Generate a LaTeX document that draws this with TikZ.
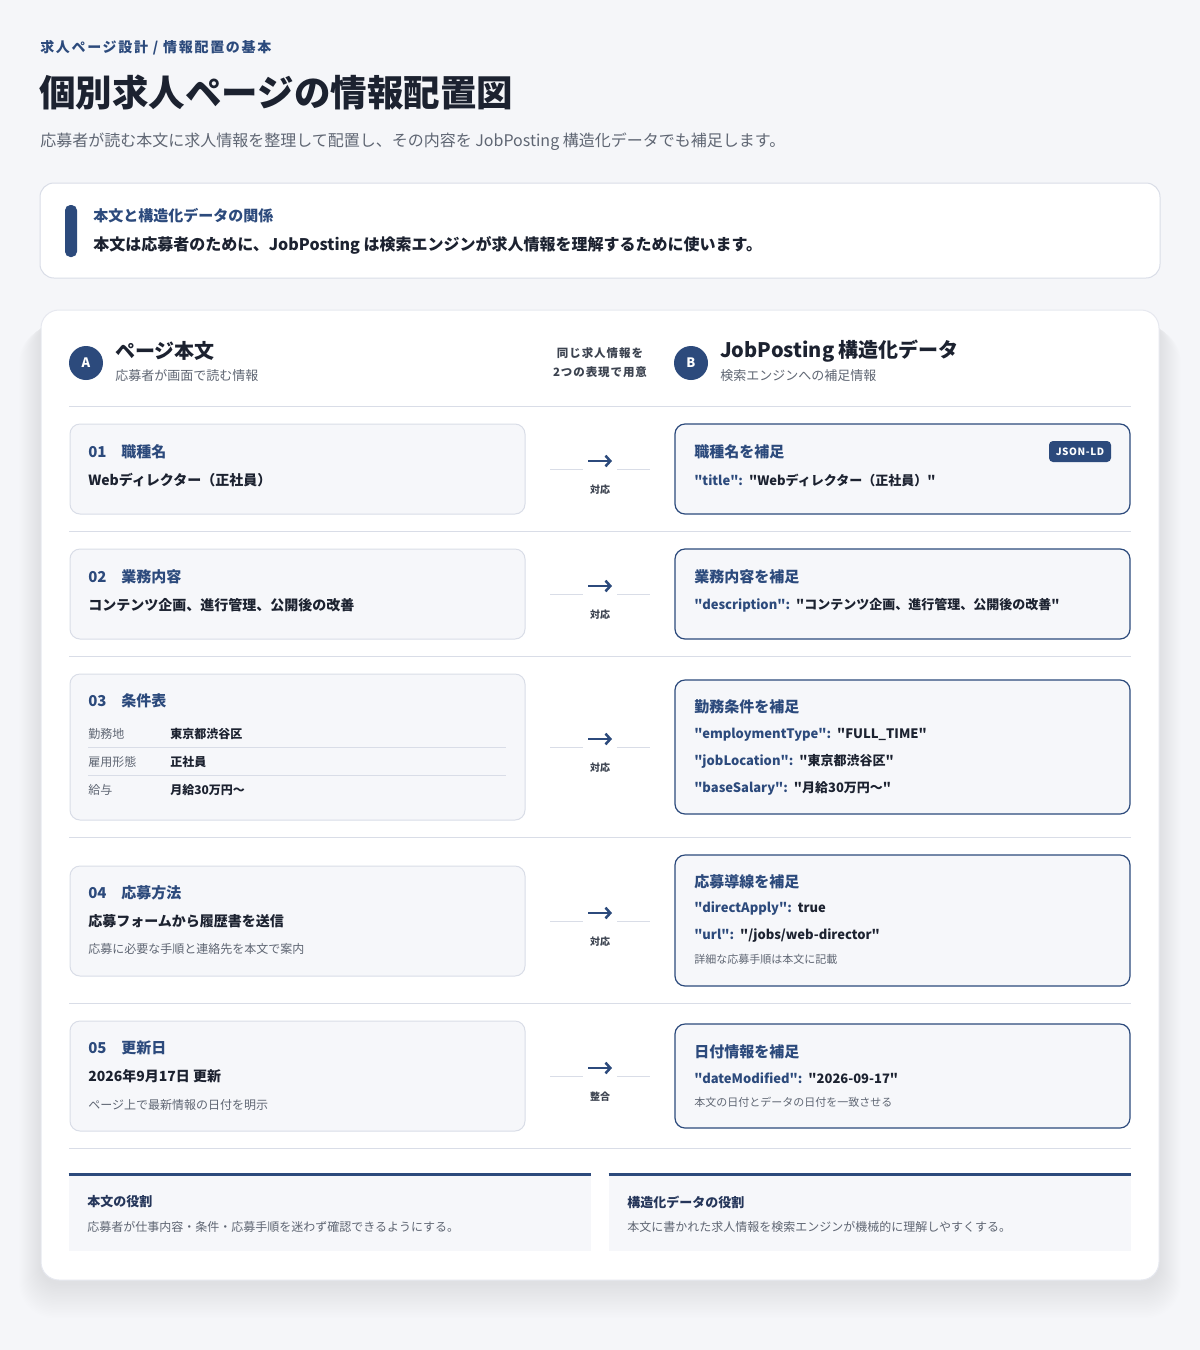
\documentclass[tikz,border=0pt]{standalone}
\usepackage{fontspec}
\setmainfont{Noto Sans CJK JP}
\newfontfamily\jsonfont{Noto Sans CJK JP}
\usetikzlibrary{arrows.meta}
\definecolor{bg}{HTML}{F5F6F9}
\definecolor{bordc}{HTML}{D9DDE7}
\definecolor{cardbord}{HTML}{E6E8EF}
\definecolor{navy}{HTML}{2C4A7C}
\definecolor{ink}{HTML}{1C2230}
\definecolor{mute}{HTML}{5F6673}
\definecolor{panel}{HTML}{F6F7FA}
\definecolor{roleink}{HTML}{25365A}
\definecolor{midink}{HTML}{3C4350}
\definecolor{shad}{HTML}{5A6384}
\newcommand\fs[1]{\pgfmathsetmacro\fsv{#1*0.75}\fontsize{\fsv pt}{\fsv pt}\selectfont}
\newcommand\panel[6]{\node[#2, inner sep=0pt, minimum width={(#5-#3)*0.75pt}, minimum height={(#6-#4)*0.75pt}] (#1) at ({(#3+#5)/2},{(#4+#6)/2}) {};}
\newcommand\jkey[1]{{\color{navy}#1}}
\tikzset{
  txt/.style={inner sep=0pt, anchor=west},
  lpanel/.style={draw=bordc, fill=panel, line width=0.75pt, rounded corners=7.5pt},
  rpanel/.style={draw=navy, fill=panel, line width=0.9pt, rounded corners=7.5pt},
  rowhead/.style={txt, text=navy, font=\fs{15}\bfseries},
  rowval/.style={txt, text=ink, font=\fs{14}\bfseries},
  jline/.style={txt, text=ink, font=\jsonfont\fs{13}\bfseries},
  lnote/.style={txt, text=mute, font=\fs{12}},
  rnote/.style={txt, text=mute, font=\fs{11}},
  tlabel/.style={txt, text=mute, font=\fs{12}},
  tval/.style={txt, text=ink, font=\fs{12}\bfseries},
  sepline/.style={draw=bordc, line width=0.75pt},
  linkline/.style={draw=bordc, line width=0.75pt},
  linkarrow/.style={draw=navy, line width=1.9pt, -{Straight Barb[length=3.6pt,width=8pt]}},
  linklabel/.style={inner sep=0pt, text=midink, font=\fs{10}\bfseries},
  badge/.style={circle, fill=navy, text=white, inner sep=0pt, minimum size=25.5pt, font=\fs{13}\bfseries},
}
\newcommand\rowlink[3]{%
  \coordinate (#1-l1) at (550,#2); \coordinate (#1-l2) at (583,#2);
  \coordinate (#1-r1) at (617,#2); \coordinate (#1-r2) at (650,#2);
  \draw[linkline] (#1-l1) -- (#1-l2);
  \draw[linkline] (#1-r1) -- (#1-r2);
  \coordinate (#1-a1) at (588,#2-8); \coordinate (#1-a2) at (612,#2-8);
  \draw[linkarrow] (#1-a1) -- (#1-a2);
  \node[linklabel] (#1-lab) at (600,#2+21) {#3};}
\begin{document}
\begin{tikzpicture}[x=0.75pt,y=-0.75pt]
\useasboundingbox (0,0) rectangle (1200,1350);
\fill[bg] (0,0) rectangle (1200,1350);

% header texts
\node[txt, text=navy, font=\fs{14}\bfseries\addfontfeature{LetterSpace=12}] (crumb) at (40,48) {求人ページ設計 / 情報配置の基本};
\node[txt, text=ink, font=\fs{36.5}\bfseries] (title) at (39,92) {個別求人ページの情報配置図};
\node[txt, text=mute, font=\fs{16}] (subtitle) at (40,142) {応募者が読む本文に求人情報を整理して配置し、その内容を JobPosting 構造化データでも補足します。};

% note box
\panel{note}{draw=bordc, fill=white, line width=0.75pt, rounded corners=10.5pt}{40}{183}{1160}{278}
\panel{notebar}{fill=navy, rounded corners=4pt}{65}{205}{77}{257}
\node[txt, text=navy, font=\fs{15}\bfseries] (notehead) at (93,216) {本文と構造化データの関係};
\node[txt, text=ink, font=\fs{16}\bfseries] (notebody) at (93,245) {本文は応募者のために、JobPosting は検索エンジンが求人情報を理解するために使います。};

% main card shadow (soft, layered)
\foreach \i in {1,...,22}{
  \fill[shad, opacity=0.0045, rounded corners={13.5pt+\i*0.6pt}] ({41-\i*1.0},{318+\i*0.4}) rectangle ({1159+\i*1.0},{1283+\i*1.6});
}
\panel{card}{draw=cardbord, fill=white, line width=0.75pt, rounded corners=13.5pt}{41}{310}{1159}{1280}

% column headers
\node[badge] (ca) at (86,363) {A};
\node[txt, text=ink, font=\fs{20}\bfseries] (colA) at (115,351) {ページ本文};
\node[txt, text=mute, font=\fs{13}] (colAsub) at (115,376) {応募者が画面で読む情報};
\node[inner sep=0pt, text=midink, font=\fs{11.5}\bfseries\addfontfeature{LetterSpace=8}] (mid1) at (600,353) {同じ求人情報を};
\node[inner sep=0pt, text=midink, font=\fs{11.5}\bfseries\addfontfeature{LetterSpace=8}] (mid2) at (600,372) {2つの表現で用意};
\node[badge] (cb) at (691,363) {B};
\node[txt, text=ink, font=\fs{20}\bfseries] (colB) at (720,351) {JobPosting 構造化データ};
\node[txt, text=mute, font=\fs{13}] (colBsub) at (720,376) {検索エンジンへの補足情報};

% separators
\foreach \yy in {406,531,656,837,1003,1148}{
  \draw[sepline] (69,\yy) -- (1131,\yy);
}

% ---- row 1
\panel{L1}{lpanel}{70}{424}{525}{514}
\panel{R1}{rpanel}{675}{424}{1130}{514}
\node[rowhead] (L1n) at (88,452) {01};
\node[rowhead] (L1t) at (121,452) {職種名};
\node[rowval] (L1v) at (88,480) {Webディレクター（正社員）};
\node[rowhead] (R1h) at (694,452) {職種名を補足};
\node[fill=navy, text=white, rounded corners=3pt, inner sep=0pt, minimum width=46.5pt, minimum height=15.75pt, font=\fs{10}\bfseries\addfontfeature{LetterSpace=6}] (json) at (1080,451.5) {JSON-LD};
\node[jline] (R1j) at (694,480) {\jkey{"title":}\hspace{4.5pt}"Webディレクター（正社員）"};
\rowlink{k1}{469}{対応}

% ---- row 2
\panel{L2}{lpanel}{70}{549}{525}{639}
\panel{R2}{rpanel}{675}{549}{1130}{639}
\node[rowhead] (L2n) at (88,577) {02};
\node[rowhead] (L2t) at (121,577) {業務内容};
\node[rowval] (L2v) at (88,605) {コンテンツ企画、進行管理、公開後の改善};
\node[rowhead] (R2h) at (694,577) {業務内容を補足};
\node[jline] (R2j) at (694,605) {\jkey{"description":}\hspace{4.5pt}"コンテンツ企画、進行管理、公開後の改善"};
\rowlink{k2}{594}{対応}

% ---- row 3
\panel{L3}{lpanel}{70}{674}{525}{820}
\panel{R3}{rpanel}{675}{680}{1130}{814}
\node[rowhead] (L3n) at (88,701) {03};
\node[rowhead] (L3t) at (121,701) {条件表};
\node[tlabel] (L3a) at (88,734) {勤務地};
\node[tval] (L3av) at (170,734) {東京都渋谷区};
\draw[sepline] (88,747) -- (506,747);
\node[tlabel] (L3b) at (88,762) {雇用形態};
\node[tval] (L3bv) at (170,762) {正社員};
\draw[sepline] (88,775) -- (506,775);
\node[tlabel] (L3c) at (88,790) {給与};
\node[tval] (L3cv) at (170,790) {月給30万円〜};
\node[rowhead] (R3h) at (694,707) {勤務条件を補足};
\node[jline] (R3j1) at (694,735) {\jkey{"employmentType":}\hspace{4.5pt}"FULL\_TIME"};
\node[jline] (R3j2) at (694,761) {\jkey{"jobLocation":}\hspace{4.5pt}"東京都渋谷区"};
\node[jline] (R3j3) at (694,788) {\jkey{"baseSalary":}\hspace{4.5pt}"月給30万円〜"};
\rowlink{k3}{747}{対応}

% ---- row 4
\panel{L4}{lpanel}{70}{866}{525}{976}
\panel{R4}{rpanel}{675}{855}{1130}{986}
\node[rowhead] (L4n) at (88,893) {04};
\node[rowhead] (L4t) at (121,893) {応募方法};
\node[rowval] (L4v) at (88,921) {応募フォームから履歴書を送信};
\node[lnote] (L4x) at (88,949) {応募に必要な手順と連絡先を本文で案内};
\node[rowhead] (R4h) at (694,882) {応募導線を補足};
\node[jline] (R4j1) at (694,909) {\jkey{"directApply":}\hspace{4.5pt}true};
\node[jline] (R4j2) at (694,936) {\jkey{"url":}\hspace{4.5pt}"/jobs/web-director"};
\node[rnote] (R4x) at (694,959) {詳細な応募手順は本文に記載};
\rowlink{k4}{921}{対応}

% ---- row 5
\panel{L5}{lpanel}{70}{1021}{525}{1131}
\panel{R5}{rpanel}{675}{1024}{1130}{1128}
\node[rowhead] (L5n) at (88,1048) {05};
\node[rowhead] (L5t) at (121,1048) {更新日};
\node[rowval] (L5v) at (88,1076) {2026年9月17日 更新};
\node[lnote] (L5x) at (88,1105) {ページ上で最新情報の日付を明示};
\node[rowhead] (R5h) at (694,1052) {日付情報を補足};
\node[jline] (R5j) at (694,1078) {\jkey{"dateModified":}\hspace{4.5pt}"2026-09-17"};
\node[rnote] (R5x) at (694,1102) {本文の日付とデータの日付を一致させる};
\rowlink{k5}{1076}{整合}

% ---- footer roles
\panel{FA}{fill=panel}{69}{1173}{591}{1251}
\panel{FB}{fill=panel}{609}{1173}{1131}{1251}
\draw[navy, line width=2.25pt] ([yshift=-1.1pt]FA.north west) -- ([yshift=-1.1pt]FA.north east);
\draw[navy, line width=2.25pt] ([yshift=-1.1pt]FB.north west) -- ([yshift=-1.1pt]FB.north east);
\node[txt, text=roleink, font=\fs{13}\bfseries] (FAh) at (87,1202) {本文の役割};
\node[txt, text=mute, font=\fs{12}] (FAd) at (87,1227) {応募者が仕事内容・条件・応募手順を迷わず確認できるようにする。};
\node[txt, text=roleink, font=\fs{13}\bfseries] (FBh) at (627,1202) {構造化データの役割};
\node[txt, text=mute, font=\fs{12}] (FBd) at (627,1227) {本文に書かれた求人情報を検索エンジンが機械的に理解しやすくする。};
\end{tikzpicture}
\end{document}
